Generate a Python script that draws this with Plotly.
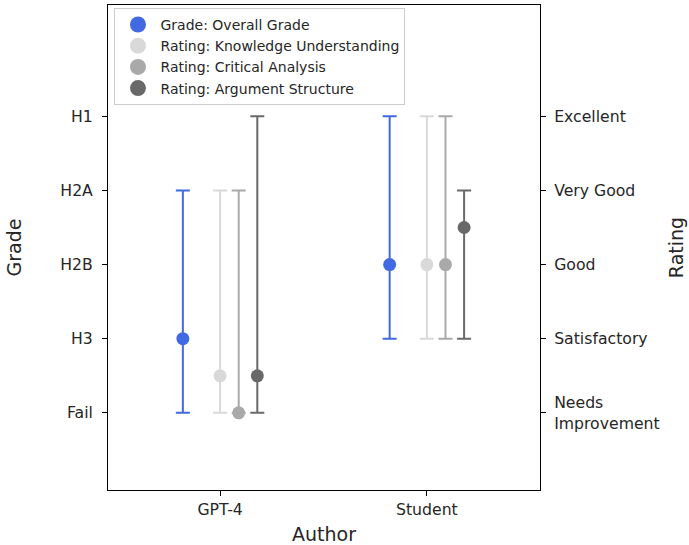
import plotly.graph_objects as go

authors = ["GPT-4", "Student"]
grade_labels = ["Fail", "H3", "H2B", "H2A", "H1"]
rating_labels = ["Needs<br>Improvement", "Satisfactory", "Good", "Very Good", "Excellent"]

series_names = ["Grade: Overall Grade", "Rating: Knowledge Understanding",
                "Rating: Critical Analysis", "Rating: Argument Structure"]
series_colors = ["#4169E1", "#D9D9D9", "#A9A9A9", "#696969"]
series_offsets = [-0.18, 0.0, 0.09, 0.18]

means = [[1, 2], [0.5, 2], [0, 2], [0.5, 2.5]]
lows = [[0, 1], [0, 1], [0, 1], [0, 1]]
highs = [[3, 4], [3, 4], [3, 4], [4, 3]]

fig = go.Figure()
for name, color, off, m, lo, hi in zip(series_names, series_colors, series_offsets, means, lows, highs):
    xs = [i + off for i in range(len(authors))]
    fig.add_trace(go.Scatter(
        x=xs, y=m, mode="markers", showlegend=False,
        marker=dict(color=color, size=13),
        error_y=dict(type="data", symmetric=False,
                     array=[h - v for h, v in zip(hi, m)],
                     arrayminus=[v - l for v, l in zip(m, lo)],
                     color=color, thickness=2, width=7),
        yaxis="y" if name.startswith("Grade") else "y2",
    ))
for name, color in zip(series_names, series_colors):
    fig.add_trace(go.Scatter(x=[None], y=[None], mode="markers", name=name,
                             marker=dict(color=color, size=16)))

font = "DejaVu Sans"
fig.update_layout(
    width=689, height=545,
    margin=dict(l=108, r=149, t=5, b=55),
    plot_bgcolor="white", paper_bgcolor="white",
    font=dict(family=font, size=15.7, color="#262626"),
    xaxis=dict(range=[-0.542, 1.547], tickvals=[0, 1], ticktext=authors,
               showgrid=False, zeroline=False, showline=True, linecolor="black",
               mirror=True, ticks="outside", ticklen=5, tickcolor="black",
               ticklabelstandoff=0, automargin=False,
               title=dict(text="Author", font=dict(size=19), standoff=12)),
    yaxis=dict(range=[-1.04, 5.5], tickvals=list(range(5)), ticktext=grade_labels,
               showgrid=False, zeroline=False, showline=True, linecolor="black",
               mirror=True, ticks="outside", ticklen=5, tickcolor="black",
               ticklabelstandoff=6, automargin=False,
               title=dict(text="Grade", font=dict(size=19), standoff=33)),
    yaxis2=dict(range=[-1.04, 5.5], tickvals=list(range(5)), ticktext=rating_labels,
                overlaying="y", side="right", showgrid=False, zeroline=False,
                ticks="outside", ticklen=5, tickcolor="black",
                ticklabelstandoff=5, automargin=False,
                title=dict(text="Rating", font=dict(size=19), standoff=11)),
    legend=dict(x=0.015, y=0.994, xanchor="left", yanchor="top",
                bgcolor="rgba(255,255,255,0.8)", bordercolor="#CCCCCC", borderwidth=1,
                font=dict(size=14), tracegroupgap=0, itemwidth=35),
)
fig.write_html("out.html", config={"displayModeBar": False},
               post_script="document.body.style.margin='0';")
